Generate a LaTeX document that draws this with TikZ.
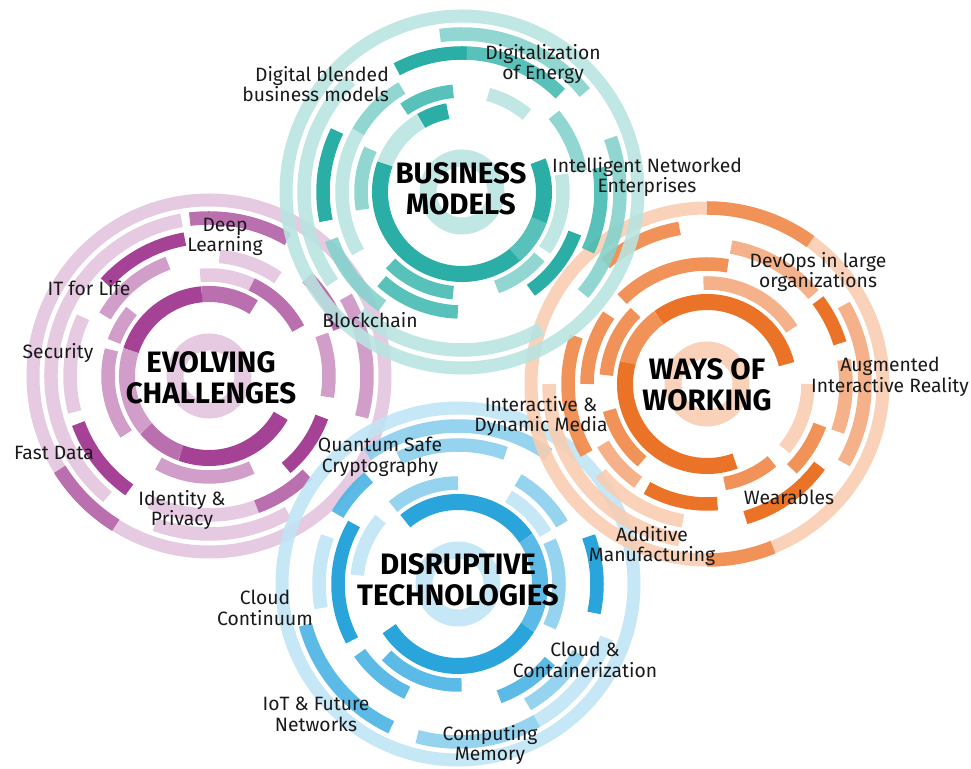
\documentclass[tikz,border=0pt]{standalone}
\usepackage{fontspec}
\setmainfont{Fira Sans}
\definecolor{tealD}{HTML}{14A59B}
\definecolor{tealM}{HTML}{45BAB2}
\definecolor{tealL}{HTML}{85D2CC}
\definecolor{tealP}{HTML}{B9E4E1}
\definecolor{purD}{HTML}{9B2D8B}
\definecolor{purM}{HTML}{B35FA5}
\definecolor{purL}{HTML}{CC92C3}
\definecolor{purP}{HTML}{E3C4DE}
\definecolor{orD}{HTML}{E9640F}
\definecolor{orM}{HTML}{EF8646}
\definecolor{orL}{HTML}{F3A97D}
\definecolor{orP}{HTML}{F8CDB1}
\definecolor{bluD}{HTML}{139BD7}
\definecolor{bluM}{HTML}{4AB4E3}
\definecolor{bluL}{HTML}{8ACEED}
\definecolor{bluP}{HTML}{C0E4F5}
\tikzset{
  lbl/.style={font=\fontsize{19.3}{20.8}\selectfont, align=center, inner sep=0pt, text=black!90},
  ttl/.style={font=\fontsize{29.5}{31}\selectfont\bfseries, align=center, inner sep=0pt},
  grp/.style={transparency group, opacity=.9}
}
\newcommand{\ringarc}[5]{\draw[line width=#5pt, color=#4] ([shift={(#2:#1)}]\cen) arc[start angle=#2, end angle=#3, radius=#1];}
\begin{document}
\begin{tikzpicture}[x=1pt,y=1pt,line cap=round,line join=round]
\useasboundingbox (0,0) rectangle (971,768);
\coordinate (bm) at (462,576);
\coordinate (ec) at (209,392);
\coordinate (ww) at (707,384);
\coordinate (dt) at (458,184);
% evolving challenges
\begin{scope}[grp]
\def\cen{ec}
\draw[line width=17pt, purP] (ec) circle[radius=34];
\draw[line width=13pt, purP] (ec) circle[radius=176];
\foreach \r/\a/\b/\c in {176/212/238/purM,
  158/100/230/purP,158/60/97/purM,158/250/300/purP,158/-15/30/purL,
  139/100/138/purD,139/20/45/purM,139/155/195/purP,139/200/235/purD,139/245/290/purP,139/290/315/purM,
  120/110/150/purL,120/-10/20/purL,120/310/340/purD,120/55/85/purP,
  101/65/95/purP,101/28/65/purM,101/140/160/purL,101/165/215/purL,101/240/295/purL}
  {\ringarc{\r}{\a}{\b}{\c}{13.5}}
\foreach \a/\b/\c in {57/95/purM,95/162/purD,162/220/purL,220/250/purM,250/331/purD}
  {\ringarc{82}{\a}{\b}{\c}{16}}
\end{scope}
% disruptive technologies
\begin{scope}[grp]
\def\cen{dt}
\draw[line width=17pt, bluP] (dt) circle[radius=34];
\draw[line width=13pt, bluP] (dt) circle[radius=176];
\foreach \r/\a/\b/\c in {158/55/125/bluL,158/195/245/bluM,158/255/300/bluL,158/300/340/bluP,
  139/70/115/bluL,139/130/150/bluM,139/-12/20/bluD,139/160/190/bluP,139/300/330/bluL,
  120/150/208/bluD,120/215/245/bluM,120/290/320/bluM,120/30/60/bluL,
  101/90/130/bluL,101/30/60/bluP,101/225/272/bluM,101/-25/25/bluL,101/140/175/bluP}
  {\ringarc{\r}{\a}{\b}{\c}{13.5}}
\foreach \a/\b/\c in {34/130/bluD,-32/34/bluM,213/328/bluD}
  {\ringarc{82}{\a}{\b}{\c}{16}}
\end{scope}
% ways of working
\begin{scope}[grp]
\def\cen{ww}
\draw[line width=17pt, orP] (ww) circle[radius=34];
\draw[line width=13pt, orP] (ww) circle[radius=176];
\foreach \r/\a/\b/\c in {176/54/90/orM,176/270/292/orM,
  158/100/130/orM,158/180/260/orP,158/-30/30/orL,
  139/40/80/orL,139/17/37/orD,139/-20/10/orL,139/286/324/orD,139/160/210/orM,139/220/260/orP,
  120/80/135/orM,120/145/180/orM,120/210/235/orL,120/240/275/orD,120/315/340/orM,
  101/33/92/orL,101/135/175/orM,101/195/230/orM,101/320/360/orP,101/280/310/orM}
  {\ringarc{\r}{\a}{\b}{\c}{13.5}}
\foreach \a/\b/\c in {14/126/orD,126/165/orM,165/290/orD}
  {\ringarc{82}{\a}{\b}{\c}{16}}
\end{scope}
% business models
\begin{scope}[grp]
\def\cen{bm}
\draw[line width=17pt, tealP] (bm) circle[radius=34];
\draw[line width=13pt, tealP] (bm) circle[radius=176];
\foreach \r/\a/\b/\c in {158/39/98/tealL,158/135/215/tealP,158/230/300/tealP,158/-40/20/tealL,
  139/88/118/tealD,139/45/88/tealM,139/154/192/tealD,139/200/235/tealL,139/-25/10/tealM,
  120/120/150/tealL,120/150/210/tealP,120/228/268/tealM,120/305/340/tealD,120/10/40/tealL,
  101/95/125/tealM,101/155/190/tealL,101/225/265/tealM,101/290/320/tealL,101/-35/10/tealP,101/50/75/tealP}
  {\ringarc{\r}{\a}{\b}{\c}{13.5}}
\foreach \a/\b/\c in {100/120/tealD,120/160/tealP,160/382/tealD,310/340/tealM}
  {\ringarc{82}{\a}{\b}{\c}{16}}
\end{scope}
\node[ttl] (tbm) at (461,579) {BUSINESS\\MODELS};
\node[ttl] (tec) at (211,390) {EVOLVING\\CHALLENGES};
\node[ttl] (tww) at (707,383) {WAYS OF\\WORKING};
\node[ttl] (tdt) at (458,188) {DISRUPTIVE\\TECHNOLOGIES};
\node[lbl,align=right,anchor=east] (dbm) at (389,684) {Digital blended\\business models};
\node[lbl] (doe) at (543,704) {Digitalization\\of Energy};
\node[lbl] (ine) at (647,591) {Intelligent Networked\\Enterprises};
\node[lbl] (dl) at (225,531) {Deep\\Learning};
\node[lbl] (itl) at (89,480) {IT for Life};
\node[lbl] (sec) at (58,415) {Security};
\node[lbl] (fd) at (54,315) {Fast Data};
\node[lbl] (bc) at (370,448) {Blockchain};
\node[lbl] (idp) at (182,258) {Identity \&\\Privacy};
\node[lbl] (qsc) at (380,311) {Quantum Safe\\Cryptography};
\node[lbl] (idm) at (541,352) {Interactive \&\\Dynamic Media};
\node[lbl] (dev) at (818,496) {DevOps in large\\organizations};
\node[lbl] (air) at (890,391) {Augmented\\Interactive Reality};
\node[lbl] (wea) at (789,271) {Wearables};
\node[lbl] (am) at (652,222) {Additive\\Manufacturing};
\node[lbl] (cc) at (265,160) {Cloud\\Continuum};
\node[lbl] (ccz) at (585,108) {Cloud \&\\Containerization};
\node[lbl] (iot) at (316,54) {IoT \& Future\\Networks};
\node[lbl] (cm) at (490,23) {Computing\\Memory};
\end{tikzpicture}
\end{document}
